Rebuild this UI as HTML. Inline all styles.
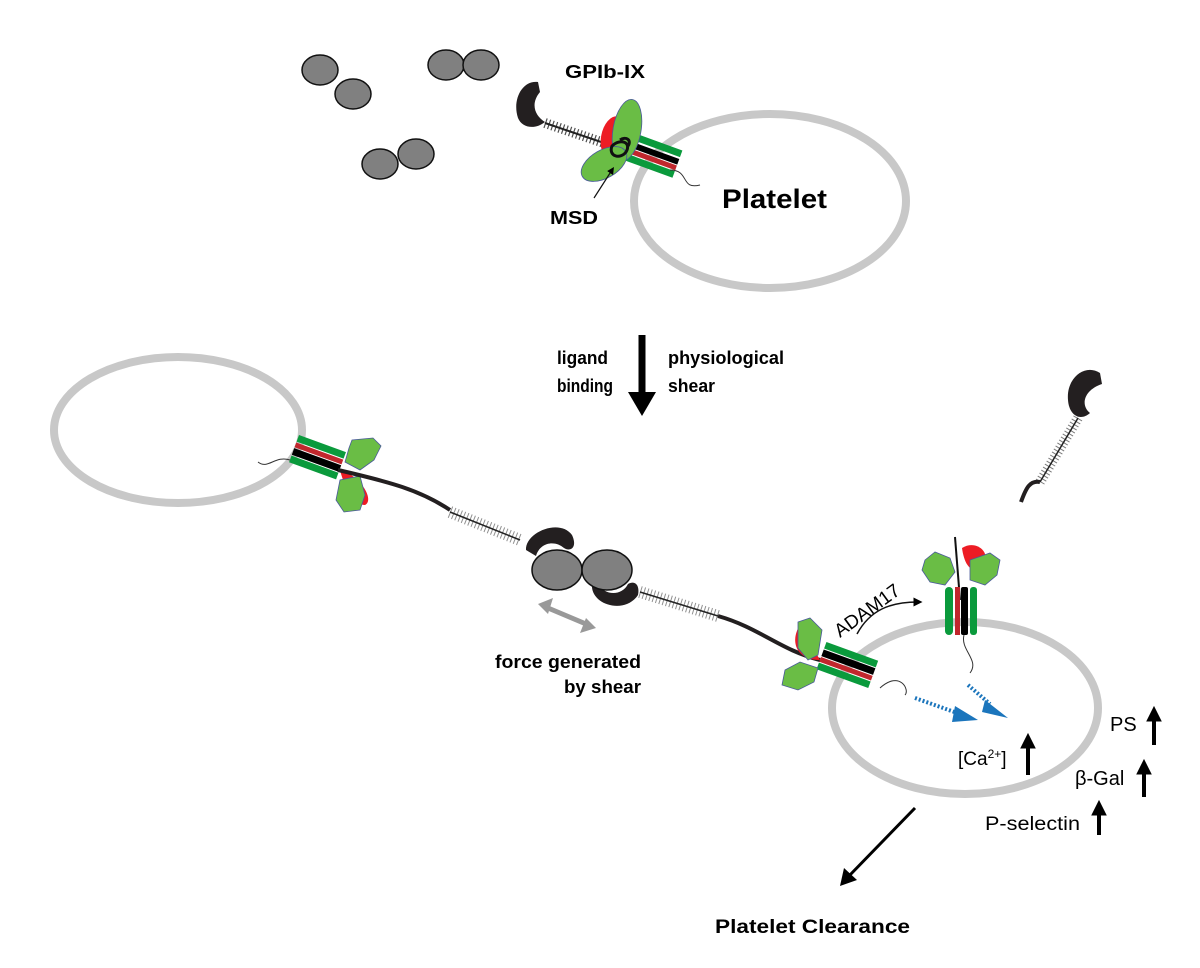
<!DOCTYPE html>
<html><head><meta charset="utf-8"><style>
html,body{margin:0;padding:0;background:#fff}
svg{display:block}
text{font-family:"Liberation Sans",sans-serif}
.b{font-weight:bold}
</style></head><body>
<svg width="1200" height="968" viewBox="0 0 1200 968" xmlns="http://www.w3.org/2000/svg">
<defs>
<marker id="ah" markerWidth="6" markerHeight="6" refX="3" refY="3" orient="auto" markerUnits="strokeWidth"><path d="M0,0 L6,3 L0,6 z" fill="#000"/></marker>
</defs>
<!-- platelets -->
<ellipse cx="770" cy="201" rx="136" ry="87" fill="none" stroke="#c8c8c8" stroke-width="8"/>
<ellipse cx="178" cy="430" rx="124" ry="73" fill="none" stroke="#c8c8c8" stroke-width="8"/>
<ellipse cx="965" cy="708" rx="133" ry="86" fill="none" stroke="#c8c8c8" stroke-width="8"/>
<!-- top vWF dimers -->
<g fill="#808080" stroke="#111" stroke-width="1.5">
<ellipse cx="320" cy="70" rx="18" ry="15"/><ellipse cx="353" cy="94" rx="18" ry="15"/>
<ellipse cx="446" cy="65" rx="18" ry="15"/><ellipse cx="481" cy="65" rx="18" ry="15"/>
<ellipse cx="380" cy="164" rx="18" ry="15"/><ellipse cx="416" cy="154" rx="18" ry="15"/>
</g>
<!-- top receptor -->
<path d="M538,82 C522,80 512,100 518,118 C522,128 535,130 545,122 C535,116 530,104 540,92 Z" fill="#231f20"/>
<line x1="545" y1="123" x2="610" y2="145" stroke="#222" stroke-width="2"/>
<line x1="545" y1="123" x2="610" y2="145" stroke="#222" stroke-width="10" stroke-dasharray="1.2 2.5" opacity="0.8"/>
<g transform="rotate(20 640 150)">
<rect x="628" y="136" width="52" height="7" fill="#0a9a3c"/>
<rect x="628" y="145" width="52" height="6" fill="#000"/>
<rect x="628" y="152" width="52" height="5" fill="#c1272d"/>
<rect x="628" y="158" width="52" height="7" fill="#0a9a3c"/>
</g>
<path d="M670,170 C690,170 680,190 700,185" fill="none" stroke="#333" stroke-width="1"/>
<ellipse cx="614" cy="138" rx="13" ry="22" fill="#ed1c24" transform="rotate(10 614 138)"/>
<ellipse cx="627" cy="130" rx="14" ry="31" fill="#6abd45" stroke="#4a5a9a" stroke-width="0.8" transform="rotate(10 627 130)"/>
<ellipse cx="604" cy="164" rx="25" ry="14" fill="#6abd45" stroke="#4a5a9a" stroke-width="0.8" transform="rotate(-30 604 164)"/>
<path d="M612,146 c8,-8 20,-4 14,6 c-6,8 -18,4 -14,-6z M620,140 c6,-4 12,0 8,6" fill="none" stroke="#111" stroke-width="3"/>
<line x1="594" y1="198" x2="612" y2="170" stroke="#111" stroke-width="1.2" marker-end="url(#ah)"/>
<!-- text top -->
<text x="565" y="78" font-size="18" class="b" textLength="80" lengthAdjust="spacingAndGlyphs">GPIb-IX</text>
<text x="550" y="224" font-size="18" class="b" textLength="48" lengthAdjust="spacingAndGlyphs">MSD</text>
<text x="722" y="208" font-size="27" class="b" textLength="105" lengthAdjust="spacingAndGlyphs">Platelet</text>
<!-- center arrow -->
<line x1="642" y1="335" x2="642" y2="395" stroke="#000" stroke-width="7"/>
<path d="M628,392 L656,392 L642,416 Z" fill="#000"/>
<text x="557" y="364" font-size="18" class="b" textLength="51" lengthAdjust="spacingAndGlyphs">ligand</text>
<text x="557" y="392" font-size="18" class="b" textLength="56" lengthAdjust="spacingAndGlyphs">binding</text>
<text x="668" y="364" font-size="18" class="b" textLength="116" lengthAdjust="spacingAndGlyphs">physiological</text>
<text x="668" y="392" font-size="18" class="b" textLength="47" lengthAdjust="spacingAndGlyphs">shear</text>
<!-- left receptor -->
<g transform="rotate(20 320 465)">
<rect x="290" y="444" width="50" height="7" fill="#0a9a3c"/>
<rect x="290" y="452" width="50" height="5" fill="#c1272d"/>
<rect x="290" y="458" width="50" height="7" fill="#000"/>
<rect x="290" y="466" width="50" height="7" fill="#0a9a3c"/>
</g>
<path d="M290,460 C275,455 268,470 258,462" fill="none" stroke="#333" stroke-width="1"/>
<path d="M340,470 C360,475 375,500 365,505 C355,505 345,490 340,470Z" fill="#ed1c24"/>
<path d="M349,448 L345,462 L360,470 L374,460 L381,446 L373,438 L352,440 Z" fill="#6abd45" stroke="#4a5a9a" stroke-width="0.8"/>
<path d="M340,480 L336,500 L344,512 L360,510 L365,495 L360,476 Z" fill="#6abd45" stroke="#4a5a9a" stroke-width="0.8"/>
<path d="M338,470 C390,482 420,490 450,510" fill="none" stroke="#231f20" stroke-width="4"/>
<line x1="450" y1="512" x2="520" y2="540" stroke="#222" stroke-width="1.5"/>
<line x1="450" y1="512" x2="520" y2="540" stroke="#222" stroke-width="12" stroke-dasharray="1 2.5" opacity="0.5"/>
<!-- middle vWF -->
<path d="M526,550 C525,532 560,518 572,535 C578,548 570,552 564,548 C555,540 540,542 536,556 Z" fill="#231f20"/>
<path d="M592,584 C590,605 625,615 638,595 C640,585 635,580 628,584 C622,596 605,596 598,584 Z" fill="#231f20"/>
<ellipse cx="557" cy="570" rx="25" ry="20" fill="#808080" stroke="#111" stroke-width="1.5"/>
<ellipse cx="607" cy="570" rx="25" ry="20" fill="#808080" stroke="#111" stroke-width="1.5"/>
<line x1="640" y1="592" x2="718" y2="616" stroke="#222" stroke-width="1.5"/>
<line x1="640" y1="592" x2="718" y2="616" stroke="#222" stroke-width="12" stroke-dasharray="1 2.5" opacity="0.5"/>
<path d="M718,616 C760,628 780,650 820,660" fill="none" stroke="#231f20" stroke-width="4"/>
<!-- gray double arrow -->
<line x1="548" y1="608" x2="586" y2="624" stroke="#999" stroke-width="5"/>
<path d="M538,604 L553,598 L548,614 Z" fill="#999"/>
<path d="M596,628 L580,633 L586,618 Z" fill="#999"/>
<text x="495" y="668" font-size="18" class="b" textLength="146" lengthAdjust="spacingAndGlyphs">force generated</text>
<text x="564" y="693" font-size="18" class="b" textLength="77" lengthAdjust="spacingAndGlyphs">by shear</text>
<!-- right receptor on platelet -->
<g transform="rotate(20 845 670)">
<rect x="818" y="650" width="55" height="7" fill="#0a9a3c"/>
<rect x="818" y="658" width="55" height="7" fill="#000"/>
<rect x="818" y="666" width="55" height="5" fill="#c1272d"/>
<rect x="818" y="672" width="55" height="7" fill="#0a9a3c"/>
</g>
<path d="M880,688 C900,670 910,690 905,695" fill="none" stroke="#333" stroke-width="1"/>
<path d="M800,625 C790,640 795,660 820,660 Z" fill="#ed1c24"/>
<path d="M798,622 L810,618 L822,630 L818,655 L808,660 L798,648 Z" fill="#6abd45" stroke="#4a5a9a" stroke-width="0.8"/>
<path d="M785,670 L800,662 L818,668 L814,682 L798,690 L782,685 Z" fill="#6abd45" stroke="#4a5a9a" stroke-width="0.8"/>
<!-- ADAM17 -->
<text x="0" y="0" font-size="19" transform="translate(840,638) rotate(-36)">ADAM17</text>
<path d="M857,634 C870,610 890,602 918,602" fill="none" stroke="#111" stroke-width="1.5" marker-end="url(#ah)"/>
<!-- cleaved receptor -->
<path d="M962,548 C975,540 990,550 985,565 C975,575 965,570 962,548Z" fill="#ed1c24"/>
<path d="M925,560 L935,552 L950,558 L955,572 L945,585 L930,582 L922,570 Z" fill="#6abd45" stroke="#4a5a9a" stroke-width="0.8"/>
<path d="M970,560 L990,553 L1000,560 L997,575 L985,585 L970,580 Z" fill="#6abd45" stroke="#4a5a9a" stroke-width="0.8"/>
<line x1="955" y1="537" x2="960" y2="600" stroke="#111" stroke-width="2"/>
<rect x="945" y="587" width="8" height="48" rx="4" fill="#0a9a3c"/>
<rect x="955" y="587" width="5" height="48" fill="#c1272d"/>
<rect x="961" y="587" width="7" height="48" rx="2" fill="#000"/>
<rect x="970" y="587" width="7" height="48" rx="3" fill="#0a9a3c"/>
<path d="M964,635 C960,650 980,660 970,673" fill="none" stroke="#333" stroke-width="1"/>
<!-- free GPIbα fragment -->
<path d="M1100,373 C1085,363 1066,378 1068,400 C1069,415 1080,422 1090,413 C1080,405 1084,390 1102,384 Z" fill="#231f20"/>
<line x1="1078" y1="418" x2="1040" y2="482" stroke="#222" stroke-width="1.5"/>
<line x1="1078" y1="418" x2="1040" y2="482" stroke="#222" stroke-width="10" stroke-dasharray="1 2.5" opacity="0.6"/>
<path d="M1040,482 C1030,480 1026,488 1021,502" fill="none" stroke="#231f20" stroke-width="4"/>
<!-- blue dotted arrows -->
<line x1="915" y1="698" x2="960" y2="714" stroke="#1b75bc" stroke-width="4" stroke-dasharray="2 2"/>
<path d="M955,706 L978,720 L952,722 Z" fill="#1b75bc"/>
<line x1="968" y1="685" x2="990" y2="704" stroke="#1b75bc" stroke-width="4" stroke-dasharray="2 2"/>
<path d="M985,700 L1008,718 L982,712 Z" fill="#1b75bc"/>
<!-- labels with up arrows -->
<text x="958" y="765" font-size="19">[Ca<tspan font-size="12" dy="-7">2+</tspan><tspan dy="7">]</tspan></text>
<text x="1110" y="731" font-size="20">PS</text>
<text x="1075" y="785" font-size="20">β-Gal</text>
<text x="985" y="830" font-size="19" textLength="95" lengthAdjust="spacingAndGlyphs">P-selectin</text>
<g fill="#000" stroke="#000">
<line x1="1028" y1="775" x2="1028" y2="745" stroke-width="4"/><path d="M1021,748 L1035,748 L1028,734 Z"/>
<line x1="1154" y1="745" x2="1154" y2="718" stroke-width="4"/><path d="M1147,721 L1161,721 L1154,707 Z"/>
<line x1="1144" y1="797" x2="1144" y2="771" stroke-width="4"/><path d="M1137,774 L1151,774 L1144,760 Z"/>
<line x1="1099" y1="835" x2="1099" y2="812" stroke-width="4"/><path d="M1092,815 L1106,815 L1099,801 Z"/>
</g>
<!-- clearance arrow -->
<line x1="915" y1="808" x2="848" y2="877" stroke="#000" stroke-width="3"/>
<path d="M840,886 L844,868 L857,880 Z" fill="#000"/>
<text x="715" y="933" font-size="19" class="b" textLength="195" lengthAdjust="spacingAndGlyphs">Platelet Clearance</text>
</svg>
</body></html>
